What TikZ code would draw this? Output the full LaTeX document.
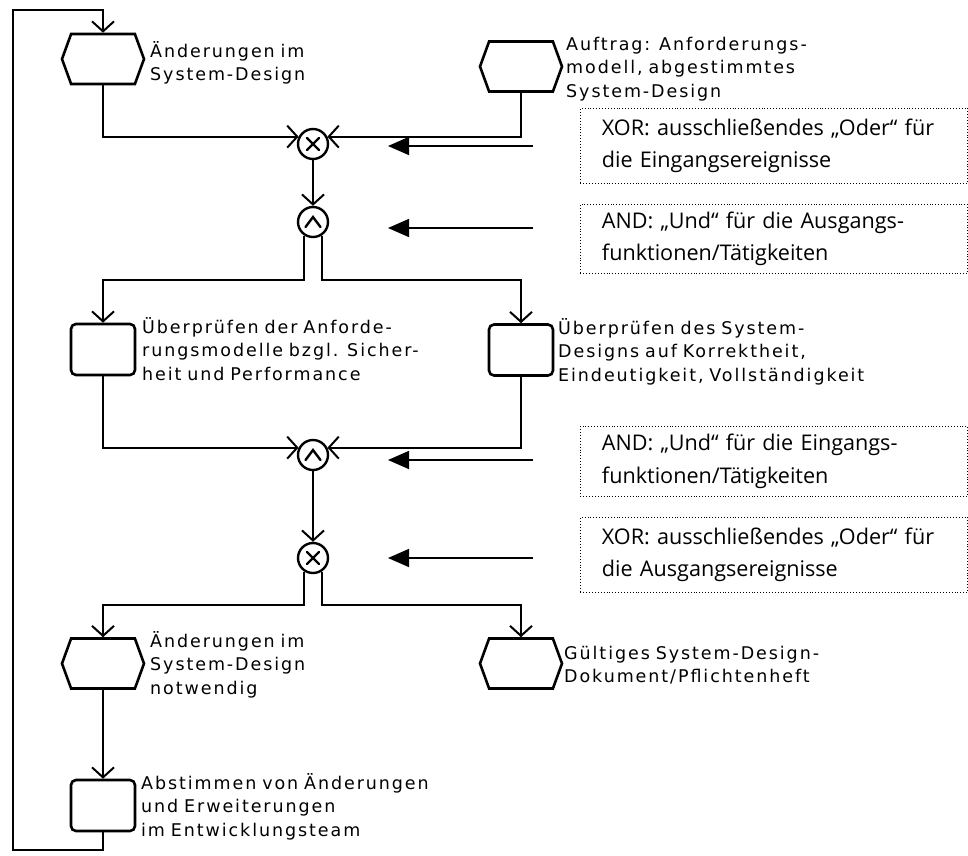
\documentclass[tikz,border=0pt]{standalone}
\usepackage{fontspec}
\setmainfont{DejaVu Sans}
\newfontfamily\lblfont[LetterSpace=11]{DejaVu Sans}
\newfontfamily\notefont{Open Sans}
\usetikzlibrary{shapes.symbols,arrows.meta}

\begin{document}
\begin{tikzpicture}[x=1pt,y=-1pt,
  event/.style={signal, signal to=east and west, signal pointer angle=140,
    draw, line width=2.6pt, minimum width=82pt, minimum height=50pt, inner sep=0pt},
  func/.style={rectangle, rounded corners=5pt, draw, line width=2.6pt,
    minimum width=64pt, minimum height=51pt, inner sep=0pt},
  conn/.style={circle, draw, line width=2.4pt, minimum size=30pt, inner sep=0pt},
  sym/.style={line width=2.4pt, line cap=round},
  flow/.style={line width=2pt, -{Straight Barb[length=10pt,width=22pt]}},
  lbl/.style={anchor=base west, inner sep=0pt, text width=360pt, align=left,
    font=\lblfont\fontsize{17.5}{23.5}\selectfont},
  note/.style={draw, dotted, line width=0.9pt, anchor=north west,
    minimum width=387pt, inner xsep=21.5pt, inner ysep=0pt, text width=344pt,
    align=left, font=\notefont\fontsize{21.6}{32.5}\selectfont},
  pointer/.style={line width=1.6pt, -{Triangle[length=21pt,width=18pt]}},
]
\useasboundingbox (0,0) rectangle (968,855);

% events
\node[event] (e1) at (103,59) {};
\node[event] (e2) at (521,66.5) {};
\node[event] (e3) at (103,663.5) {};
\node[event] (e4) at (521,663.5) {};

% functions
\node[func] (f1) at (103,349.5) {};
\node[func] (f2) at (521,350) {};
\node[func] (f3) at (103,805.5) {};

% connectors
\node[conn] (x1) at (313,144) {};
\node[conn] (a1) at (313,222) {};
\node[conn] (a2) at (313,455) {};
\node[conn] (x2) at (313,558) {};
\foreach \c in {x1,x2}{
  \draw[sym] ([shift={(-6,-6)}]\c.center) -- ([shift={(6,6)}]\c.center)
             ([shift={(-6,6)}]\c.center) -- ([shift={(6,-6)}]\c.center);
}
\foreach \c in {a1,a2}{
  \draw[sym] ([shift={(-7.5,5)}]\c.center) -- ([shift={(0,-5)}]\c.center)
             -- ([shift={(7.5,5)}]\c.center);
}

% labels
\node[lbl] (t1) at (150,57) {Änderungen im\\System-Design};
\node[lbl] (t2) at (566,50) {Auftrag: Anforderungs-\\modell, abgestimmtes\\System-Design};
\node[lbl] (t3) at (142,333) {Überprüfen der Anforde-\\rungsmodelle bzgl. Sicher-\\heit und Performance};
\node[lbl] (t4) at (558,334) {Überprüfen des System-\\Designs auf Korrektheit,\\Eindeutigkeit, Vollständigkeit};
\node[lbl] (t5) at (150,647) {Änderungen im\\System-Design\\notwendig};
\node[lbl] (t6) at (564,659) {Gültiges System-Design-\\Dokument/Pflichtenheft};
\node[lbl] (t7) at (141,789) {Abstimmen von Änderungen\\und Erweiterungen\\im Entwicklungsteam};

% control flow
\coordinate (s1) at (313,280);
\coordinate (s2) at (313,605);
\coordinate (lb) at (13,850);
\coordinate (lt) at (13,10);
\draw[flow] (e1.south) |- (x1.153);
\draw[flow] (e2.south) |- (x1.27);
\draw[flow] (x1.south) -- (a1.north);
\draw[flow] (a1.-122) -- (a1.-122 |- s1) -| (f1.north);
\draw[flow] (a1.-58) -- (a1.-58 |- s1) -| (f2.north);
\draw[flow] (f1.south) |- (a2.153);
\draw[flow] (f2.south) |- (a2.27);
\draw[flow] (a2.south) -- (x2.north);
\draw[flow] (x2.-122) -- (x2.-122 |- s2) -| (e3.north);
\draw[flow] (x2.-58) -- (x2.-58 |- s2) -| (e4.north);
\draw[flow] (e3.south) -- (f3.north);
\draw[flow] (f3.south) |- (lb) -- (lt) -| (e1.north);

% notes on the connectors
\node[note, minimum height=75pt] (n1) at (580,108)
  {\mbox{XOR: ausschließendes „Oder“ für}\\\mbox{die Eingangsereignisse}};
\node[note, minimum height=69pt] (n2) at (580,204)
  {\mbox{AND: „Und“ für die Ausgangs-}\\\mbox{funktionen/Tätigkeiten}};
\node[note, minimum height=70pt] (n3) at (580,426)
  {\mbox{AND: „Und“ für die Eingangs-}\\\mbox{funktionen/Tätigkeiten}};
\node[note, minimum height=75pt] (n4) at (580,517)
  {\mbox{XOR: ausschließendes „Oder“ für}\\\mbox{die Ausgangsereignisse}};

\coordinate (p1a) at (533,146); \coordinate (p1b) at (388,146);
\coordinate (p2a) at (533,228); \coordinate (p2b) at (388,228);
\coordinate (p3a) at (533,460); \coordinate (p3b) at (388,460);
\coordinate (p4a) at (533,558); \coordinate (p4b) at (388,558);
\draw[pointer] (p1a) -- (p1b);
\draw[pointer] (p2a) -- (p2b);
\draw[pointer] (p3a) -- (p3b);
\draw[pointer] (p4a) -- (p4b);
\end{tikzpicture}
\end{document}
